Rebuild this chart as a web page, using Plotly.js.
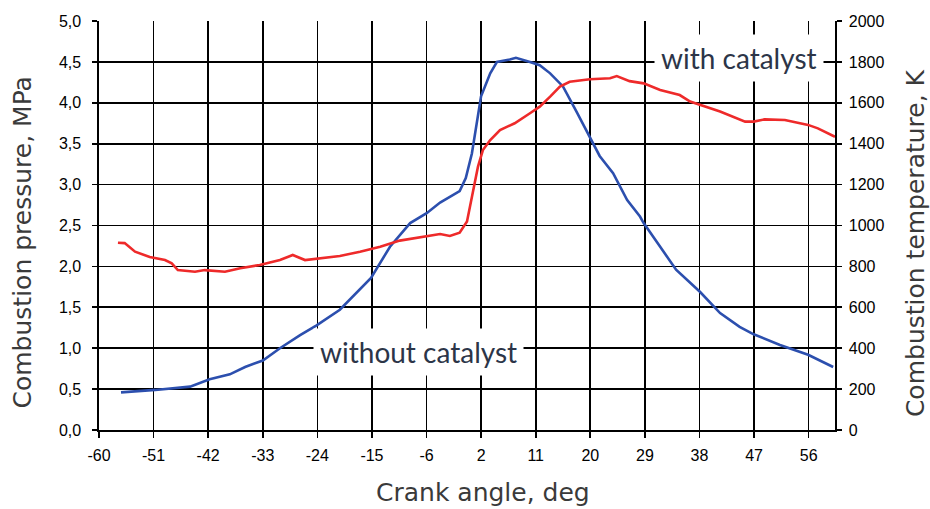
<!DOCTYPE html>
<html>
<head>
<meta charset="utf-8">
<script src="https://cdn.plot.ly/plotly-3.0.1.min.js"></script>
<style>
  html, body { margin: 0; padding: 0; background: #fff; }
  #chart { width: 930px; height: 509px; }
</style>
</head>
<body>
<div id="chart"></div>
<script>
// Crank angle tick labels (uniform tick spacing of ~8.93 deg)
const tickLabels = ["-60", "-51", "-42", "-33", "-24", "-15", "-6", "2", "11", "20", "29", "38", "47", "56"];
const tickStep = 8.93;

// Series: without catalyst (blue), combustion pressure in MPa
const angleWithout = [-56.4, -50.8, -45.1, -43.5, -41.9, -38.6, -36.1, -33.2, -30.4, -27.1, -24.4, -20.6,
  -15.5, -12.4, -9.1, -6.4, -4.2, -1.0, 0.0, 1.0, 1.5, 2.5, 4.0, 5.1, 7.2, 8.2, 10.5, 12.1, 13.8, 15.9,
  18.2, 20.3, 21.9, 24.1, 26.4, 28.5, 29.1, 31.8, 34.4, 38.3, 41.6, 44.8, 47.1, 51.4, 56.0, 60.1];
const pressureWithout = [0.46, 0.49, 0.53, 0.58, 0.62, 0.68, 0.77, 0.85, 1.00, 1.16, 1.28, 1.47,
  1.86, 2.24, 2.53, 2.65, 2.78, 2.92, 3.08, 3.38, 3.63, 4.08, 4.36, 4.50, 4.53, 4.55, 4.50, 4.46, 4.36, 4.20,
  3.88, 3.59, 3.35, 3.14, 2.81, 2.61, 2.53, 2.24, 1.96, 1.69, 1.43, 1.26, 1.17, 1.04, 0.92, 0.77];

// Series: with catalyst (red), read on the right axis in K
const angleWith = [-56.9, -55.8, -54.1, -51.7, -49.2, -48.1, -47.1, -44.3, -42.7, -39.4, -36.9, -33.7,
  -30.4, -28.3, -26.3, -23.9, -20.6, -17.3, -14.0, -10.8, -7.5, -4.2, -2.6, -1.0, 0.2, 1.1, 2.0, 2.8,
  4.0, 5.6, 8.0, 10.5, 12.1, 13.8, 15.4, 17.0, 20.3, 23.6, 24.7, 26.8, 29.1, 31.8, 35.0, 36.7, 38.3,
  41.6, 45.7, 47.1, 48.9, 52.2, 56.0, 57.6, 60.4];
const tempWith = [916, 914, 872, 846, 831, 815, 782, 774, 782, 774, 791, 807,
  831, 856, 831, 840, 851, 872, 896, 926, 942, 958, 949, 965, 1020, 1150, 1288, 1369,
  1418, 1467, 1500, 1549, 1581, 1630, 1679, 1703, 1715, 1720, 1731, 1706, 1695, 1663, 1638, 1606, 1589,
  1557, 1508, 1508, 1519, 1516, 1492, 1475, 1434];

const tickVals = tickLabels.map((_, i) => -60 + i * tickStep);

const traces = [
  {
    x: angleWithout, y: pressureWithout, name: "without catalyst",
    type: "scatter", mode: "lines", yaxis: "y",
    line: { color: "#2c4fae", width: 2.6 }
  },
  {
    x: angleWith, y: tempWith, name: "with catalyst",
    type: "scatter", mode: "lines", yaxis: "y2",
    line: { color: "#ee2a2a", width: 2.6 }
  }
];

const tickFont = { family: "Liberation Sans, Arial, sans-serif", size: 16, color: "#000" };
const titleFont = { family: "DejaVu Sans, sans-serif", size: 25, color: "#3a3a3a" };
const labelFont = { family: "Lato, sans-serif", size: 28, color: "#2c3548" };

const layout = {
  width: 930, height: 509,
  margin: { l: 99, r: 95, t: 21, b: 79, pad: 0 },
  paper_bgcolor: "#fff", plot_bgcolor: "#fff",
  showlegend: false,
  separators: ", ",
  xaxis: {
    range: [-60, 60.4], tickmode: "array", tickvals: tickVals, ticktext: tickLabels,
    showgrid: true, gridcolor: "#000", gridwidth: 1.6, zeroline: false,
    showline: true, linecolor: "#000", linewidth: 1.6,
    ticks: "outside", ticklen: 6, tickcolor: "#000", tickwidth: 1.6,
    ticklabelstandoff: 4, tickfont: tickFont
  },
  yaxis: {
    range: [0, 5], tick0: 0, dtick: 0.5, tickformat: ".1f",
    showgrid: true, gridcolor: "#000", gridwidth: 1.6, zeroline: false,
    showline: true, linecolor: "#000", linewidth: 1.6,
    ticks: "outside", ticklen: 5, tickcolor: "#000", tickwidth: 1.6,
    ticklabelstandoff: 8, tickfont: tickFont
  },
  yaxis2: {
    range: [0, 2000], tick0: 0, dtick: 200, overlaying: "y", side: "right",
    showgrid: false, zeroline: false,
    showline: true, linecolor: "#000", linewidth: 1.6,
    ticks: "outside", ticklen: 5, tickcolor: "#000", tickwidth: 1.6,
    ticklabelstandoff: 4, tickfont: tickFont
  },
  annotations: [
    { text: "Crank angle, deg", xref: "paper", yref: "paper", x: 0.5217, y: -0.1540,
      xanchor: "center", yanchor: "middle", showarrow: false, font: titleFont },
    { text: "Combustion pressure, MPa", xref: "paper", yref: "paper", x: -0.1033, y: 0.4584,
      xanchor: "center", yanchor: "middle", textangle: -90, showarrow: false, font: titleFont },
    { text: "Combustion temperature, K", xref: "paper", yref: "paper", x: 1.1087, y: 0.457,
      xanchor: "center", yanchor: "middle", textangle: -90, showarrow: false, font: titleFont },
    { text: "with catalyst", xref: "x", yref: "y", x: 44.75, y: 4.55,
      xanchor: "center", yanchor: "middle", showarrow: false, font: labelFont,
      bgcolor: "#fff", borderpad: 6 },
    { text: "without catalyst", xref: "x", yref: "y", x: -7.7, y: 0.95,
      xanchor: "center", yanchor: "middle", showarrow: false, font: labelFont,
      bgcolor: "#fff", borderpad: 6 }
  ]
};

Plotly.newPlot("chart", traces, layout, { staticPlot: true, displayModeBar: false });
</script>
</body>
</html>
